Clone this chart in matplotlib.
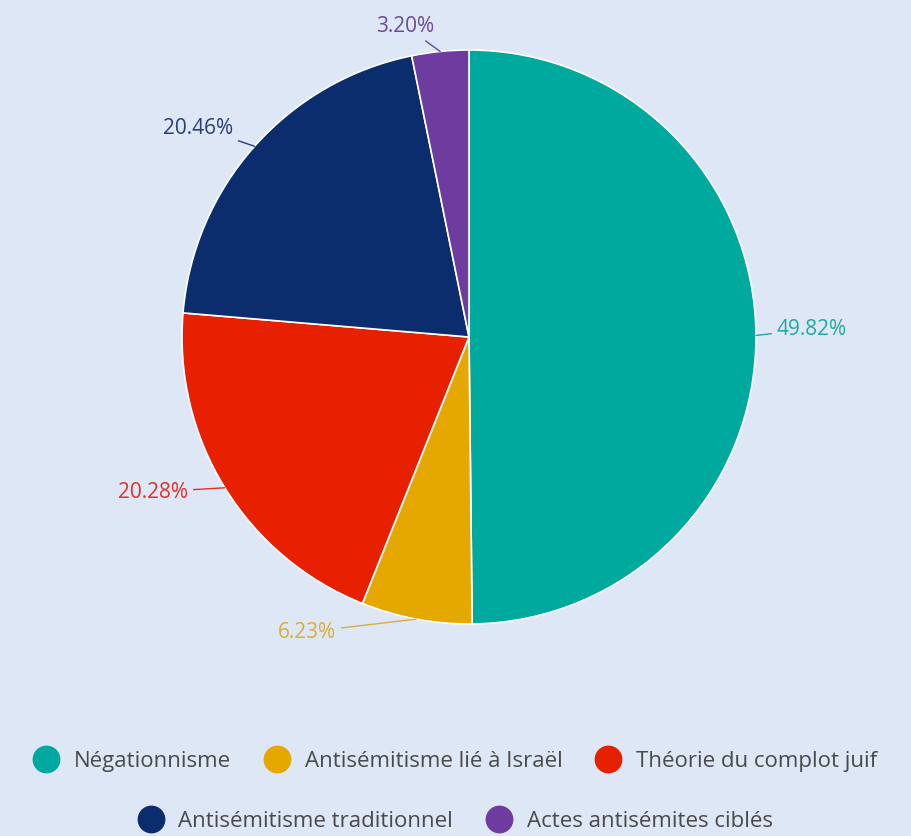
import numpy as np
import matplotlib
matplotlib.use("Agg")
import matplotlib.pyplot as plt
from matplotlib.lines import Line2D

# données
categories = ["Négationnisme", "Antisémitisme lié à Israël", "Théorie du complot juif",
              "Antisémitisme traditionnel", "Actes antisémites ciblés"]
values = [49.82, 6.23, 20.28, 20.46, 3.20]
colors = ["#00A99D", "#E5A800", "#E62000", "#0B2D6D", "#6E3B9E"]
label_colors = ["#1FA9A0", "#D9AE3A", "#E0302A", "#2A3E72", "#6B4A9A"]

bg = "#DDE7F5"
plt.rcParams['font.family'] = ['Open Sans', 'DejaVu Sans']

fig = plt.figure(figsize=(9.11, 8.37), dpi=100, facecolor=bg)
W, H = 911, 837
cx, cy, r = 469, 338, 287
ax = fig.add_axes([(cx - r) / W, (H - cy - r) / H, 2 * r / W, 2 * r / H])
ax.set_facecolor(bg)

wedges, _ = ax.pie(values, colors=colors, startangle=90, counterclock=False,
                   wedgeprops=dict(edgecolor="white", linewidth=1.2))
ax.set_xlim(-1, 1)
ax.set_ylim(-1, 1)
ax.set_aspect("equal")

# position des étiquettes (pixels de l'image)
label_px = [(812, 330), (307, 633), (153, 493), (198, 128), (405, 27)]

for w, v, (px, py), lc in zip(wedges, values, label_px, label_colors):
    ang = np.deg2rad((w.theta1 + w.theta2) / 2)
    x0, y0 = np.cos(ang), np.sin(ang)
    tx, ty = (px - cx) / r, (cy - py) / r
    ax.annotate(f"{v:.2f}%", xy=(x0, y0), xytext=(tx, ty),
                ha="center", va="center", fontsize=15, color=lc,
                annotation_clip=False,
                arrowprops=dict(arrowstyle="-", color=lc, lw=1.0,
                                shrinkA=2, shrinkB=0))

legend_kw = dict(frameon=False, fontsize=16, labelcolor="#4A4A4A",
                 handletextpad=0.7, columnspacing=1.5, handlelength=1.1,
                 loc="center", borderpad=0.1)

def handle(c):
    return Line2D([], [], marker="o", color="none", markerfacecolor=c,
                  markeredgecolor=c, markersize=19)

fig.legend([handle(c) for c in colors[:3]], categories[:3], ncol=3,
           bbox_to_anchor=(0.5, (H - 762) / H), **legend_kw)
fig.legend([handle(c) for c in colors[3:]], categories[3:], ncol=2,
           bbox_to_anchor=(0.5, (H - 822) / H), **legend_kw)

fig.savefig("out.png", dpi=100, facecolor=bg)
